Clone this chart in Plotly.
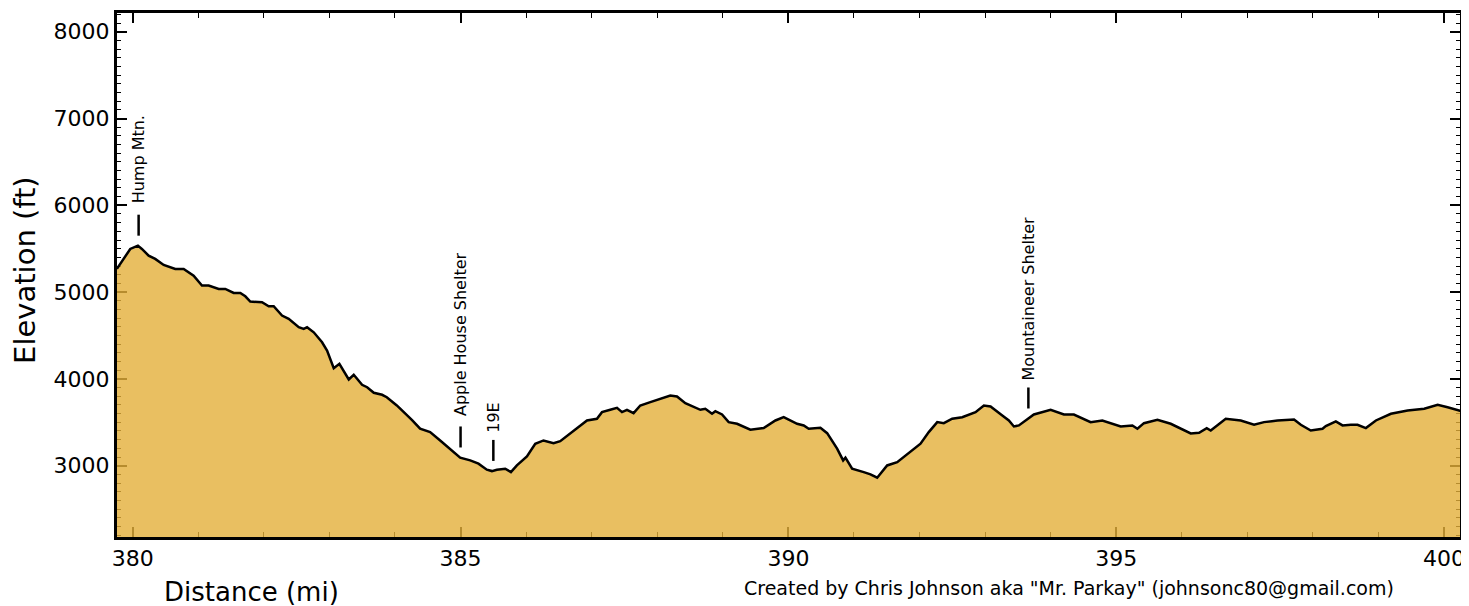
import plotly.graph_objects as go

# Elevation profile (miles, feet)
miles = [379.759, 379.861, 379.962, 380.079, 380.140, 380.243, 380.343, 380.472, 380.649, 380.777,
         380.929, 381.056, 381.158, 381.311, 381.412, 381.540, 381.641, 381.717, 381.793, 381.972,
         382.074, 382.150, 382.277, 382.379, 382.532, 382.608, 382.659, 382.761, 382.888, 382.964,
         383.066, 383.152, 383.295, 383.371, 383.498, 383.575, 383.677, 383.803, 383.875, 384.028,
         384.257, 384.383, 384.536, 384.689, 384.841, 384.994, 385.147, 385.273, 385.401, 385.478,
         385.554, 385.681, 385.768, 385.859, 386.012, 386.139, 386.265, 386.418, 386.520, 386.699,
         386.928, 387.080, 387.157, 387.283, 387.386, 387.462, 387.538, 387.639, 387.741, 387.894,
         388.046, 388.199, 388.301, 388.428, 388.657, 388.733, 388.835, 388.886, 388.988, 389.089,
         389.217, 389.420, 389.623, 389.802, 389.928, 390.133, 390.234, 390.310, 390.488, 390.591,
         390.743, 390.835, 390.870, 390.972, 391.149, 391.252, 391.354, 391.506, 391.659, 391.862,
         392.015, 392.141, 392.270, 392.370, 392.498, 392.651, 392.854, 392.981, 393.083, 393.262,
         393.362, 393.439, 393.515, 393.744, 393.999, 394.202, 394.354, 394.609, 394.788, 395.068,
         395.246, 395.323, 395.423, 395.628, 395.831, 396.136, 396.263, 396.380, 396.441, 396.670,
         396.899, 397.102, 397.254, 397.459, 397.712, 397.815, 397.967, 398.146, 398.196, 398.349,
         398.451, 398.578, 398.680, 398.807, 398.960, 399.189, 399.444, 399.697, 399.902, 400.054,
         400.231, 400.258]
elev = [5267, 5382, 5497, 5535, 5497, 5420, 5382, 5313, 5267, 5267,
        5190, 5075, 5075, 5037, 5037, 4991, 4991, 4952, 4891, 4883,
        4837, 4837, 4730, 4692, 4595, 4576, 4595, 4537, 4422, 4327,
        4123, 4174, 3993, 4047, 3932, 3904, 3840, 3817, 3789, 3694,
        3529, 3426, 3387, 3291, 3196, 3092, 3061, 3023, 2954, 2938,
        2954, 2965, 2926, 3003, 3107, 3253, 3291, 3260, 3283, 3387,
        3521, 3541, 3617, 3644, 3667, 3617, 3644, 3605, 3694, 3732,
        3771, 3809, 3797, 3720, 3644, 3656, 3598, 3628, 3590, 3502,
        3483, 3414, 3433, 3521, 3559, 3483, 3464, 3426, 3437, 3375,
        3196, 3061, 3092, 2965, 2926, 2900, 2862, 3003, 3041, 3156,
        3253, 3387, 3502, 3490, 3541, 3559, 3617, 3694, 3682, 3579,
        3521, 3452, 3464, 3590, 3644, 3590, 3590, 3502, 3521, 3452,
        3464, 3426, 3490, 3529, 3483, 3372, 3380, 3433, 3406, 3541,
        3521, 3472, 3502, 3521, 3533, 3472, 3406, 3426, 3456, 3510,
        3464, 3472, 3472, 3433, 3521, 3598, 3636, 3656, 3702, 3674,
        3636, 3630]

# Landmarks
lm_names = ["Hump Mtn.", "Apple House Shelter", "19E", "Mountaineer Shelter"]
lm_miles = [380.09, 385.00, 385.50, 393.66]
lm_mark_elev = [5771, 3331, 3176, 3780]
lm_text_elev = [5995, 3544, 3360, 3962]

x_range = [379.745, 400.258]
y_range = [2167, 8227]

FONT = "DejaVu Sans"

fig = go.Figure()
# invisible trace so the mirrored (top/right) axes are drawn
fig.add_trace(go.Scatter(
    x=miles, y=elev, mode="lines", line=dict(color="rgba(0,0,0,0)", width=0),
    xaxis="x2", yaxis="y2", hoverinfo="skip", showlegend=False))

fig.add_trace(go.Scatter(
    x=miles, y=elev, mode="lines",
    line=dict(color="black", width=2.5),
    fill="tozeroy", fillcolor="rgba(227,175,57,0.80)",
    hoverinfo="skip", showlegend=False))

fig.add_trace(go.Scatter(
    x=lm_miles, y=lm_mark_elev, mode="markers",
    marker=dict(symbol="line-ns", size=15, line=dict(color="black", width=2.5)),
    hoverinfo="skip", showlegend=False))

for name, m, te in zip(lm_names, lm_miles, lm_text_elev):
    fig.add_annotation(x=m, y=te, text=name, showarrow=False, textangle=-90,
                       xanchor="center", yanchor="bottom",
                       font=dict(family=FONT, size=16, color="black"))

axis_common = dict(
    showgrid=False, zeroline=False, showline=True, linecolor="black", linewidth=2,
    ticks="inside", ticklen=11, tickwidth=1.5, tickcolor="black",
    layer="below traces",
    tickfont=dict(family=FONT, size=22, color="black"),
)

xminor = dict(ticks="inside", dtick=1, ticklen=6, tickwidth=1.2, tickcolor="black")
yminor = dict(ticks="inside", dtick=100, ticklen=5, tickwidth=1.2, tickcolor="black")

fig.update_layout(
    xaxis=dict(range=x_range, tick0=380, dtick=5, minor=xminor, **axis_common),
    yaxis=dict(range=y_range, tick0=0, dtick=1000, minor=yminor, **axis_common),
    xaxis2=dict(range=x_range, tick0=380, dtick=5, minor=xminor, overlaying="x",
                side="top", anchor="y2", showticklabels=False, **axis_common),
    yaxis2=dict(range=y_range, tick0=0, dtick=1000, minor=yminor, overlaying="y",
                side="right", anchor="x2", showticklabels=False, **axis_common),
)

# frame on top
fig.add_shape(type="rect", xref="paper", yref="paper", x0=0, y0=0, x1=1, y1=1,
              line=dict(color="black", width=2), layer="above")

fig.add_annotation(xref="paper", yref="paper", x=-0.0677, y=0.5095, text="Elevation (ft)",
                   showarrow=False, textangle=-90, xanchor="center", yanchor="middle",
                   font=dict(family=FONT, size=29, color="black"))
fig.add_annotation(xref="paper", yref="paper", x=0.1004, y=-0.1027, text="Distance (mi)",
                   showarrow=False, xanchor="center", yanchor="middle",
                   font=dict(family=FONT, size=26, color="black"))
fig.add_annotation(xref="paper", yref="paper", x=0.7086, y=-0.0951,
                   text='Created by Chris Johnson aka "Mr. Parkay" (johnsonc80@gmail.com)',
                   showarrow=False, xanchor="center", yanchor="middle",
                   font=dict(family=FONT, size=19, color="black"))

# page body has an 8px margin; size the figure so the plot area lands where the reference's does
fig.update_layout(
    width=1461, height=598,
    margin=dict(l=108, r=8, t=4, b=68),
    paper_bgcolor="white", plot_bgcolor="rgba(0,0,0,0)",
    font=dict(family=FONT, color="black"),
)

fig.write_html("out.html")
